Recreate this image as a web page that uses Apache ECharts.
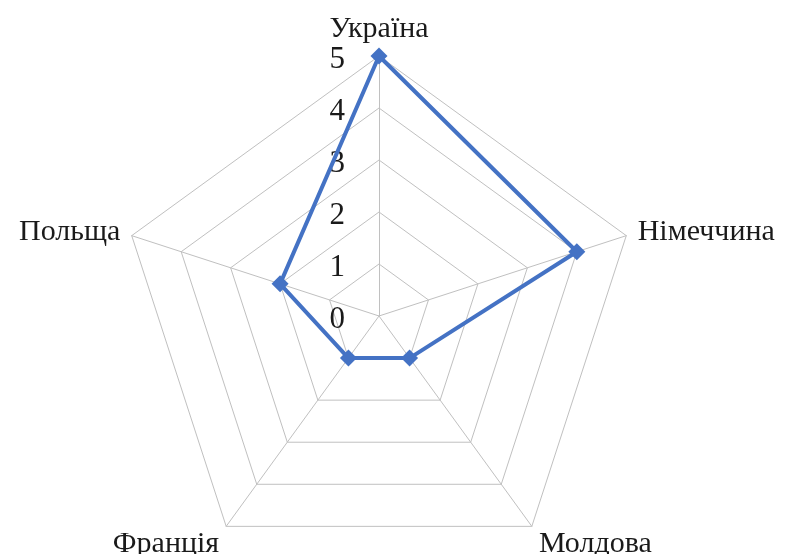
<!DOCTYPE html>
<html>
<head>
<meta charset="utf-8">
<script src="https://cdn.jsdelivr.net/npm/echarts@6/dist/echarts.min.js"></script>
<style>
html,body{margin:0;padding:0;background:#fff;}
#chart{width:785px;height:554px;}
</style>
</head>
<body>
<div id="chart"></div>
<script>
// Data (indicator order: top, then counter-clockwise as ECharts places them)
const countries = ['Україна', 'Польща', 'Франція', 'Молдова', 'Німеччина'];
const values = [5, 2, 1, 1, 4];
const maxValue = 5;
const tickLabels = ['0', '1', '2', '3', '4', '5'];
const lowerNames = ['Франція', 'Молдова'];

const chart = echarts.init(document.getElementById('chart'), null, {renderer: 'canvas'});
const font = 'Liberation Serif, Times New Roman, serif';
const option = {
  backgroundColor: '#ffffff',
  animation: false,
  radar: {
    center: [379, 316],
    radius: 260,
    startAngle: 90,
    shape: 'polygon',
    splitNumber: 5,
    indicator: countries.map(n => ({name: n, max: maxValue, min: 0})),
    axisName: {
      color: '#1a1a1a', fontFamily: font, fontSize: 30,
      formatter: function (name) {
        return lowerNames.indexOf(name) >= 0 ? '{low|' + name + '}' : '{n|' + name + '}';
      },
      rich: {
        n: {color: '#1a1a1a', fontFamily: font, fontSize: 30},
        low: {color: '#1a1a1a', fontFamily: font, fontSize: 30, padding: [16, 0, 0, 0]}
      }
    },
    nameGap: 12,
    axisLine: {lineStyle: {color: '#c0c0c0', width: 1}},
    splitLine: {lineStyle: {color: '#c0c0c0', width: 1}},
    splitArea: {show: false},
    axisTick: {show: false},
    axisLabel: {show: false}
  },
  polar: {center: [379, 316], radius: 260},
  angleAxis: {show: false, startAngle: 90, min: 0, max: 360},
  radiusAxis: {
    type: 'category',
    data: tickLabels,
    boundaryGap: false,
    axisLine: {show: false},
    axisTick: {show: false},
    splitLine: {show: false},
    axisLabel: {
      show: true, interval: 0, hideOverlap: false, showMinLabel: true, showMaxLabel: true,
      color: '#1a1a1a', fontFamily: font, fontSize: 31, margin: 34,
      formatter: v => '{t|' + v + '}',
      rich: {t: {color: '#1a1a1a', fontFamily: font, fontSize: 31, padding: [8, 0, 0, 0]}}
    }
  },
  series: [{
    type: 'radar',
    symbol: 'diamond',
    symbolSize: 17,
    itemStyle: {color: '#4472c4'},
    lineStyle: {color: '#4472c4', width: 4},
    data: [{value: values}]
  }]
};
chart.setOption(option);
</script>
</body>
</html>
